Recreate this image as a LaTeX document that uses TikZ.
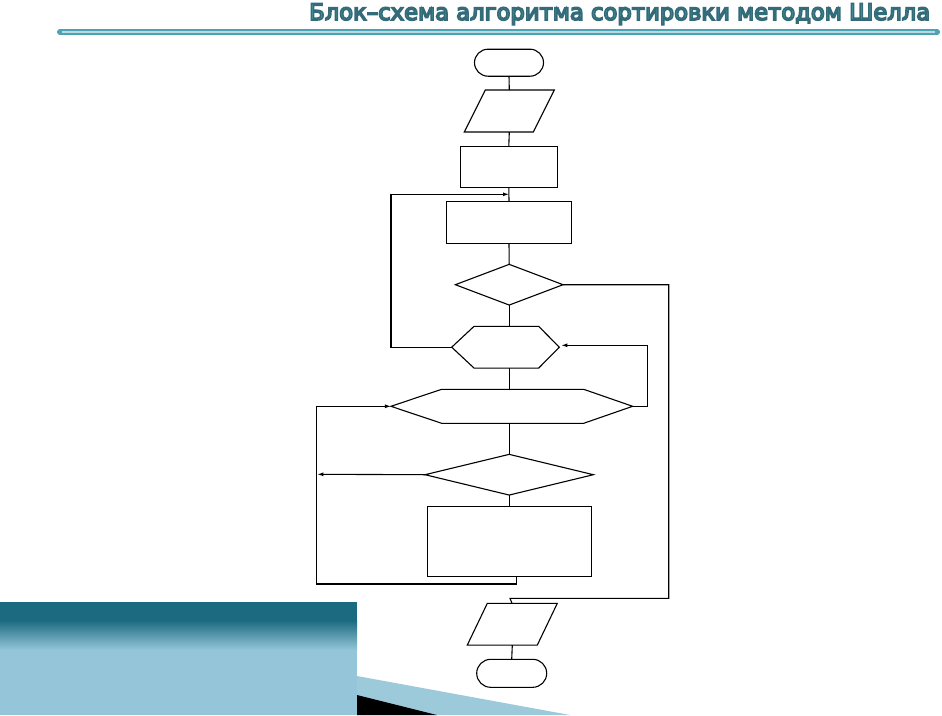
\documentclass[tikz,border=0pt]{standalone}
\usepackage{fontspec}
\usetikzlibrary{shapes.geometric,shapes.misc,arrows.meta}
\newfontfamily\titlefont{DejaVu Sans}
\definecolor{ttlfill}{HTML}{4A9AA8}
\definecolor{ttlline}{HTML}{4BA3B3}
\definecolor{bandtop}{HTML}{1B6A80}
\definecolor{bandlight}{HTML}{95C5D9}
\definecolor{wedge}{HTML}{9DCADB}
\tikzset{
  fl/.style={draw=black,line width=1.1pt,fill=none,inner sep=0pt,outer sep=0pt},
  stepbox/.style={fl,rectangle},
  termbox/.style={fl,rounded rectangle},
  plainbox/.style={rectangle,inner sep=0pt,outer sep=0pt},
  decbox/.style={fl,diamond},
  wire/.style={line width=1.1pt,draw=black,line join=miter},
  arr/.style={wire,-{Latex[length=6pt,width=4pt]}}
}
\begin{document}
\begin{tikzpicture}[x=1pt,y=-1pt]
\useasboundingbox (0,0) rectangle (942,715);
\fill[white] (0,0) rectangle (942,715);
% decoration
\fill[bandtop] (0,602) rectangle (357,620);
\shade[top color=bandtop,bottom color=bandlight] (0,620) rectangle (357,650);
\fill[bandlight] (0,650) rectangle (357,715);
\fill[wedge] (357,676) -- (570,715) -- (357,715) -- cycle;
\fill[black] (357,695) -- (437,715) -- (357,715) -- cycle;
\draw[ttlline,line width=6pt,line cap=round] (60,32) -- (937,32);
\draw[white!60!ttlline,line width=1.4pt] (62,32) -- (935,32);
\node[anchor=base west,inner sep=0pt,text=ttlfill] (title) at (309,20)
  {\resizebox{621pt}{!}{\titlefont\special{pdf:literal direct 2 Tr 0.7 w 0.2 0.42 0.47 RG}Блок–схема алгоритма сортировки методом Шелла\special{pdf:literal direct 0 Tr}}};
% flowchart
\node[termbox,minimum width=69pt,minimum height=27pt] (start) at (509,62.7) {};
\node[plainbox,minimum width=90pt,minimum height=42pt] (in) at (509.3,111) {};
\draw[wire] ([xshift=21pt]in.north west) -- (in.north east) -- ([xshift=-21pt]in.south east) -- (in.south west) -- cycle;
\node[stepbox,minimum width=97pt,minimum height=41.3pt] (r1) at (508.8,166.7) {};
\node[stepbox,minimum width=125.4pt,minimum height=41.7pt] (r2) at (509,222.2) {};
\node[decbox,minimum width=107.7pt,minimum height=40.7pt] (d1) at (509.2,284.7) {};
\node[plainbox,minimum width=107.6pt,minimum height=41.7pt] (h1) at (505.5,347.2) {};
\draw[wire] (h1.west) -- ([xshift=22.3pt]h1.north west) -- ([xshift=-20.6pt]h1.north east) -- (h1.east) -- ([xshift=-20.6pt]h1.south east) -- ([xshift=22.3pt]h1.south west) -- cycle;
\node[plainbox,minimum width=241.7pt,minimum height=34pt] (h2) at (511.8,406.3) {};
\draw[wire] (h2.west) -- ([xshift=50.7pt]h2.north west) -- ([xshift=-49pt]h2.north east) -- (h2.east) -- ([xshift=-49pt]h2.south east) -- ([xshift=50.7pt]h2.south west) -- cycle;
\node[decbox,minimum width=168.3pt,minimum height=40.7pt] (d2) at (509.2,474.7) {};
\node[stepbox,minimum width=164.4pt,minimum height=69.7pt] (r3) at (509.5,541.2) {};
\node[plainbox,minimum width=90pt,minimum height=41.7pt] (out) at (512.3,624.2) {};
\draw[wire] ([xshift=20pt]out.north west) -- (out.north east) -- ([xshift=-20pt]out.south east) -- (out.south west) -- cycle;
\node[termbox,minimum width=70pt,minimum height=28pt] (stop) at (511.7,673.3) {};
% helper coordinates
\coordinate (j1) at (509,194.3);
\coordinate (lx) at (391,194.3);
\coordinate (rx) at (668.7,598.3);
\coordinate (j2) at (510,598.3);
\coordinate (hx) at (647.7,345.3);
\coordinate (ax) at (317.3,474.3);
\coordinate (lp) at (316.3,584);
% connectors
\draw[wire] (start.south) -- (in.north);
\draw[wire] (in.south) -- (r1.north);
\draw[wire] (r1.south) -- (r2.north);
\draw[wire] (r2.south) -- (d1.north);
\draw[wire] (d1.south) -- (d1.south |- h1.north);
\draw[arr] (h1.west) -| (lx) -- (j1);
\draw[wire] (d1.east) -| (rx) -- (j2) -- ([xshift=-0.3pt]out.north);
\draw[wire] (d1.south |- h1.south) -- (d1.south |- h2.north);
\draw[arr] (h2.east) -| (hx) -- ([xshift=2pt]h1.east |- hx);
\draw[wire] (d2.north |- h2.south) -- (d2.north);
\draw[arr] (d2.west) -- (ax);
\draw[wire] (d2.south) -- (d2.south |- r3.north);
\draw[arr] ([xshift=7.2pt]r3.south) |- (lp) |- (h2.west);
\draw[wire] (out.south) -- (stop.north);
\end{tikzpicture}
\end{document}
